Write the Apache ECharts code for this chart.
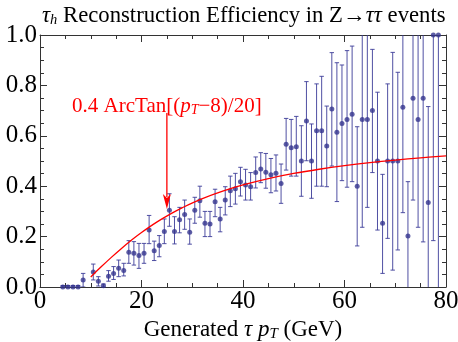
<!DOCTYPE html>
<html><head><meta charset="utf-8">
<script src="https://cdn.jsdelivr.net/npm/echarts@6/dist/echarts.min.js"></script>
<style>html,body{margin:0;padding:0;background:#fff}#c{width:458px;height:342px}</style>
</head><body><div id="c"></div>
<script>
// ---- data ----
const binCenters = [4.5,5.5,6.5,7.5,8.5,10.5,11.5,12.5,13.5,14.5,15.5,16.5,17.5,18.5,19.5,20.5,21.5,22.5,23.5,24.5,25.5,26.5,27.5,28.5,29.5,30.5,31.5,32.5,33.5,34.5,35.5,36.5,37.5,38.5,39.5,40.5,41.5,42.5,43.5,44.5,45.5,46.5,47.5,48.5,49.5,50.5,51.5,52.5,53.5,54.5,55.5,56.5,57.5,58.5,59.5,60.5,61.5,62.5,63.5,64.5,65.5,66.5,67.5,68.5,69.5,70.5,71.5,72.5,73.5,74.5,75.5,76.5,77.5,78.5];
const efficiency = [0,0,0,0,0.028,0.06,0.023,0.005,0.043,0.054,0.074,0.065,0.138,0.134,0.125,0.134,0.226,0.144,0.165,0.22,0.305,0.22,0.267,0.288,0.217,0.305,0.342,0.253,0.25,0.338,0.27,0.345,0.382,0.39,0.418,0.405,0.398,0.454,0.468,0.455,0.445,0.451,0.411,0.566,0.553,0.557,0.5,0.659,0.5,0.62,0.62,0.56,0.706,0.614,0.649,0.665,0.686,0.4,0.665,0.665,0.7,0.5,0.253,0.5,0.5,0.5,0.713,0.202,0.749,0.665,0.749,0.335,1.0,1.0];
const errLow = [0,0,0,0,0,0.028,0.004,0,0.023,0.03,0.041,0.044,0.094,0.087,0.074,0.094,0.172,0.105,0.12,0.172,0.241,0.171,0.215,0.229,0.17,0.253,0.277,0.2,0.2,0.279,0.219,0.286,0.319,0.329,0.361,0.345,0.345,0.393,0.414,0.392,0.374,0.381,0.332,0.464,0.44,0.44,0.36,0.501,0.352,0.4,0.4,0.398,0.48,0.339,0.422,0.396,0.418,0.163,0.237,0.316,0.454,0.226,0.054,0.193,0.067,0.147,0.295,-0.05,0.345,0.237,0.179,-0.05,0.184,-0.05];
const errHigh = [0.006,0.006,0.006,0.006,0.054,0.091,0.041,0.012,0.065,0.081,0.107,0.094,0.184,0.18,0.173,0.173,0.284,0.182,0.204,0.27,0.37,0.279,0.316,0.345,0.27,0.356,0.4,0.3,0.3,0.388,0.316,0.398,0.44,0.451,0.475,0.467,0.454,0.516,0.533,0.53,0.51,0.524,0.488,0.669,0.665,0.677,0.64,0.815,0.647,0.806,0.836,0.718,0.93,0.89,0.881,0.938,0.956,0.636,1.05,1.05,0.943,0.773,0.447,0.806,0.931,0.852,1.05,0.418,1.05,1.05,1.05,0.716,1.05,1.05];
// red curve samples (0.4 ArcTan[(pT-8)/20]) as drawn
const curveX = [10,12,14,16,18,20,23,26,28,32,36,40,45,50,55,60,65,70,75,80];
const curveY = [0.0399,0.0790,0.1166,0.1522,0.1855,0.2162,0.2574,0.2931,0.3142,0.3504,0.3802,0.4049,0.4301,0.4506,0.4673,0.4814,0.4933,0.5035,0.5124,0.5201];
const xTickValues = [0,20,40,60,80];
const yTickValues = [0,0.2,0.4,0.6,0.8,1.0];

const FONT = "'Liberation Serif','Times New Roman',serif";
const BLUE = '#3d3d99';
const FRAME = '#333';
const RED = '#ff0000';

const pointData = binCenters.map((x,i)=>[x, efficiency[i]]);
const errData = binCenters.map((x,i)=>[x, efficiency[i], errLow[i], errHigh[i]]);
const curveData = curveX.map((x,i)=>[x, curveY[i]]);

const chart = echarts.init(document.getElementById('c'), null, {renderer:'canvas'});

function axisBase(show){
  return {
    type:'value',
    axisLine:{show:true,onZero:false,lineStyle:{color:FRAME,width:1}},
    axisTick:{show:true,inside:true,length:7,lineStyle:{color:FRAME,width:1}},
    minorTick:{show:true,splitNumber:4,length:4,lineStyle:{color:FRAME,width:1}},
    splitLine:{show:false},
    axisLabel:{show:show,fontFamily:FONT,fontSize:25,color:'#000'}
  };
}
const xBottom = Object.assign(axisBase(true),{
  position:'bottom',min:xTickValues[0],max:xTickValues[xTickValues.length-1],interval:20,
  name:'Generated {i|τ} {i|p}{s|T} (GeV)',nameLocation:'middle',nameGap:22,
  nameTextStyle:{fontFamily:FONT,fontSize:23,color:'#000',verticalAlign:'top',
    rich:{i:{fontFamily:FONT,fontSize:23,fontStyle:'italic',color:'#000'},
          s:{fontFamily:FONT,fontSize:15,fontStyle:'italic',color:'#000',verticalAlign:'bottom'}}}
});
xBottom.axisLabel.margin = 2;
const xTop = Object.assign(axisBase(false),{position:'top',min:0,max:80,interval:20});
const yLeft = Object.assign(axisBase(true),{position:'left',min:yTickValues[0],max:yTickValues[yTickValues.length-1],interval:0.2});
yLeft.axisLabel.formatter = v=>v.toFixed(1);
yLeft.axisLabel.margin = 3;
const yRight = Object.assign(axisBase(false),{position:'right',min:0,max:1,interval:0.2});

chart.setOption({
  animation:false,
  backgroundColor:'#fff',
  title:{
    text:'{i|τ}{s|h} Reconstruction Efficiency in Z→{i|ττ} events',
    left:37,top:0,
    textStyle:{fontFamily:FONT,fontSize:22.7,fontWeight:'normal',color:'#000',
      rich:{i:{fontFamily:FONT,fontSize:22.7,fontStyle:'italic',color:'#000'},
            s:{fontFamily:FONT,fontSize:14.5,fontStyle:'italic',color:'#000',verticalAlign:'bottom'}}}
  },
  grid:{left:40,right:12,top:35,bottom:55,containLabel:false,outerBoundsMode:'none'},
  xAxis:[xBottom,xTop],
  yAxis:[yLeft,yRight],
  series:[
    {type:'custom',name:'err',xAxisIndex:0,yAxisIndex:0,clip:true,data:errData,
     encode:{x:0,y:1},
     renderItem:function(params,api){
       const x=api.value(0), lo=api.value(2), hi=api.value(3);
       const a=api.coord([x,lo]), b=api.coord([x,hi]);
       const w=2.2;
       const st={stroke:BLUE,lineWidth:1,opacity:0.9};
       return {type:'group',children:[
         {type:'line',shape:{x1:a[0],y1:a[1],x2:b[0],y2:b[1]},style:st},
         {type:'line',shape:{x1:a[0]-w,y1:a[1],x2:a[0]+w,y2:a[1]},style:st},
         {type:'line',shape:{x1:b[0]-w,y1:b[1],x2:b[0]+w,y2:b[1]},style:st}
       ]};
     }},
    {type:'scatter',xAxisIndex:0,yAxisIndex:0,data:pointData,symbol:'circle',symbolSize:5,
     itemStyle:{color:'#35358f'},clip:true,z:3},
    {type:'line',xAxisIndex:0,yAxisIndex:0,data:curveData,smooth:0.4,showSymbol:false,
     lineStyle:{color:RED,width:1.3},z:4}
  ]
});

// annotation: label + arrow pointing to the curve
const ARROW_X = 25, ARROW_TOP = 0.69, ARROW_TIP = 0.31, LABEL_Y = 0.715;
const pTop = chart.convertToPixel({gridIndex:0},[ARROW_X,ARROW_TOP]);
const pTip = chart.convertToPixel({gridIndex:0},[ARROW_X,ARROW_TIP]);
const pLab = chart.convertToPixel({gridIndex:0},[ARROW_X,LABEL_Y]);
chart.setOption({graphic:[
  {type:'line',shape:{x1:pTop[0],y1:pTop[1],x2:pTip[0],y2:pTip[1]-12},style:{stroke:RED,lineWidth:1.3},z:10},
  {type:'polygon',shape:{points:[[pTip[0],pTip[1]],[pTip[0]-4,pTip[1]-15],[pTip[0],pTip[1]-11],[pTip[0]+4,pTip[1]-15]]},style:{fill:RED},z:10},
  {type:'text',x:pLab[0],y:pLab[1],z:10,
   style:{text:'0.4 ArcTan[({i|p}{s|T}−8)/20]',align:'center',verticalAlign:'middle',
     fontFamily:FONT,fontSize:21,fill:RED,
     rich:{i:{fontFamily:FONT,fontSize:21,fontStyle:'italic',fill:RED,color:RED},
           s:{fontFamily:FONT,fontSize:14,fontStyle:'italic',fill:RED,color:RED,verticalAlign:'bottom'}}}}
]});
</script></body></html>
